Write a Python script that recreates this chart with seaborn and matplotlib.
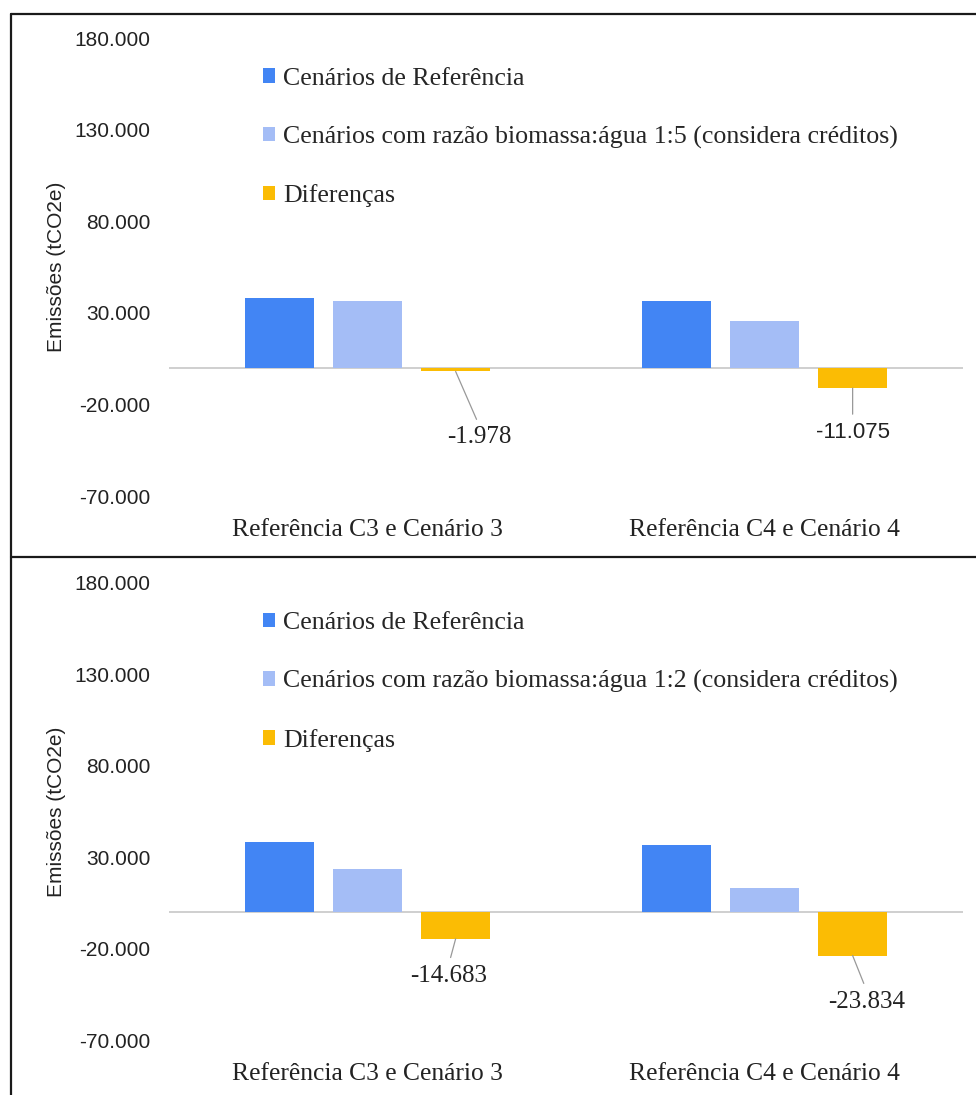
import matplotlib
matplotlib.use("Agg")
import matplotlib.pyplot as plt
from matplotlib.lines import Line2D
import pandas as pd
import seaborn as sns

# ---- data -------------------------------------------------------------
categories = ["Referência C3 e Cenário 3", "Referência C4 e Cenário 4"]

series_ref = "Cenários de Referência"
series_ratio_15 = "Cenários com razão biomassa:água 1:5 (considera créditos)"
series_ratio_12 = "Cenários com razão biomassa:água 1:2 (considera créditos)"
series_diff = "Diferenças"

ref_values = [38300, 36750]
ratio_15_values = [36300, 25680]
diff_15_values = [-1978, -11075]
ratio_12_values = [23700, 13000]
diff_12_values = [-14683, -23834]

y_ticks = [-70000, -20000, 30000, 80000, 130000, 180000]
y_label = "Emissões (tCO2e)"

# ---- style ------------------------------------------------------------
sns.set_theme(style="white")
SERIF = ["Liberation Serif", "DejaVu Serif"]
SANS = ["Liberation Sans", "DejaVu Sans"]
plt.rcParams["font.family"] = SANS

BLUE = "#4285F4"
LIGHT = "#A4BDF6"
YELLOW = "#FBBC04"
palette = [BLUE, LIGHT, YELLOW]

W, H = 976, 1095
fig = plt.figure(figsize=(W / 100, H / 100), dpi=100)
fig.patch.set_facecolor("white")


def fmt(v):
    return f"{v:,}".replace(",", ".")


def draw_panel(ax, ratio_name, ratio_values, diff_values, label_offsets, label_fonts):
    df = pd.DataFrame({
        "categoria": categories * 3,
        "serie": [series_ref] * 2 + [ratio_name] * 2 + [series_diff] * 2,
        "valor": ref_values + ratio_values + diff_values,
    })
    order = [series_ref, ratio_name, series_diff]
    sns.barplot(data=df, x="categoria", y="valor", hue="serie", hue_order=order,
                order=categories, palette=palette, saturation=1, errorbar=None,
                width=0.666, gap=0.212, legend=False, ax=ax, zorder=2,
                linewidth=0, edgecolor="none")

    ax.set_xlim(-0.5, 1.5)
    ax.set_ylim(y_ticks[0], y_ticks[-1])
    ax.set_yticks(y_ticks)
    ax.set_yticklabels([fmt(v) for v in y_ticks], fontfamily=SANS, fontsize=15)
    ax.set_xticks(range(len(categories)))
    ax.set_xticklabels(categories, fontfamily=SERIF, fontsize=18.4)
    ax.tick_params(axis="y", length=0, pad=13.5, colors="#222222")
    ax.tick_params(axis="x", length=0, pad=16.5, colors="#222222")
    ax.set_xlabel("")
    ax.set_ylabel(y_label, fontfamily=SANS, fontsize=15, color="#222222", va="center")
    ax.yaxis.set_label_coords(-0.142, 0.5)
    for s in ax.spines.values():
        s.set_visible(False)
    ax.grid(False)
    ax.axhline(0, color="#CCCCCC", lw=1.3, zorder=1)

    # legend
    handles = [ax.containers[i][0] for i in range(3)]
    ax.legend(handles, order, loc="upper left", bbox_to_anchor=(0.118, 0.9355),
              frameon=False, prop={"family": SERIF, "size": 18.6},
              handlelength=0.48, handleheight=0.48, handletextpad=0.3,
              labelspacing=1.38, borderpad=0, borderaxespad=0)

    # value labels on the difference bars, with leader lines
    for patch, val, off, fam in zip(ax.containers[2], diff_values, label_offsets, label_fonts):
        xc = patch.get_x() + patch.get_width() / 2
        family = SERIF if fam == "serif" else SANS
        size = 18 if fam == "serif" else 16
        ax.annotate(fmt(val), xy=(xc, val), xytext=off, textcoords="offset pixels",
                    ha="center", va="center", fontfamily=family, fontsize=size,
                    color="#222222",
                    arrowprops=dict(arrowstyle="-", color="#999999", lw=0.9,
                                    relpos=(0.5, 1.0), shrinkA=3, shrinkB=0))


left = 169 / W
width = 794 / W
ax_top = fig.add_axes([left, 1 - 496 / H, width, 457.7 / H])
ax_bot = fig.add_axes([left, 1 - 1040 / H, width, 457.3 / H])

draw_panel(ax_top, series_ratio_15, ratio_15_values, diff_15_values,
           [(24, -66), (0, -44)], ["serif", "sans"])
draw_panel(ax_bot, series_ratio_12, ratio_12_values, diff_12_values,
           [(-7, -37), (14, -46)], ["serif", "serif"])

# panel frames
frame_kw = dict(transform=fig.transFigure, color="#1a1a1a", lw=1.6)
fig.add_artist(Line2D([11 / W, 1], [1 - 14 / H] * 2, **frame_kw))
fig.add_artist(Line2D([11 / W, 1], [1 - 557 / H] * 2, **frame_kw))
fig.add_artist(Line2D([11 / W] * 2, [1 - 14 / H, 0], **frame_kw))

fig.savefig("out.png", dpi=100, facecolor="white")
